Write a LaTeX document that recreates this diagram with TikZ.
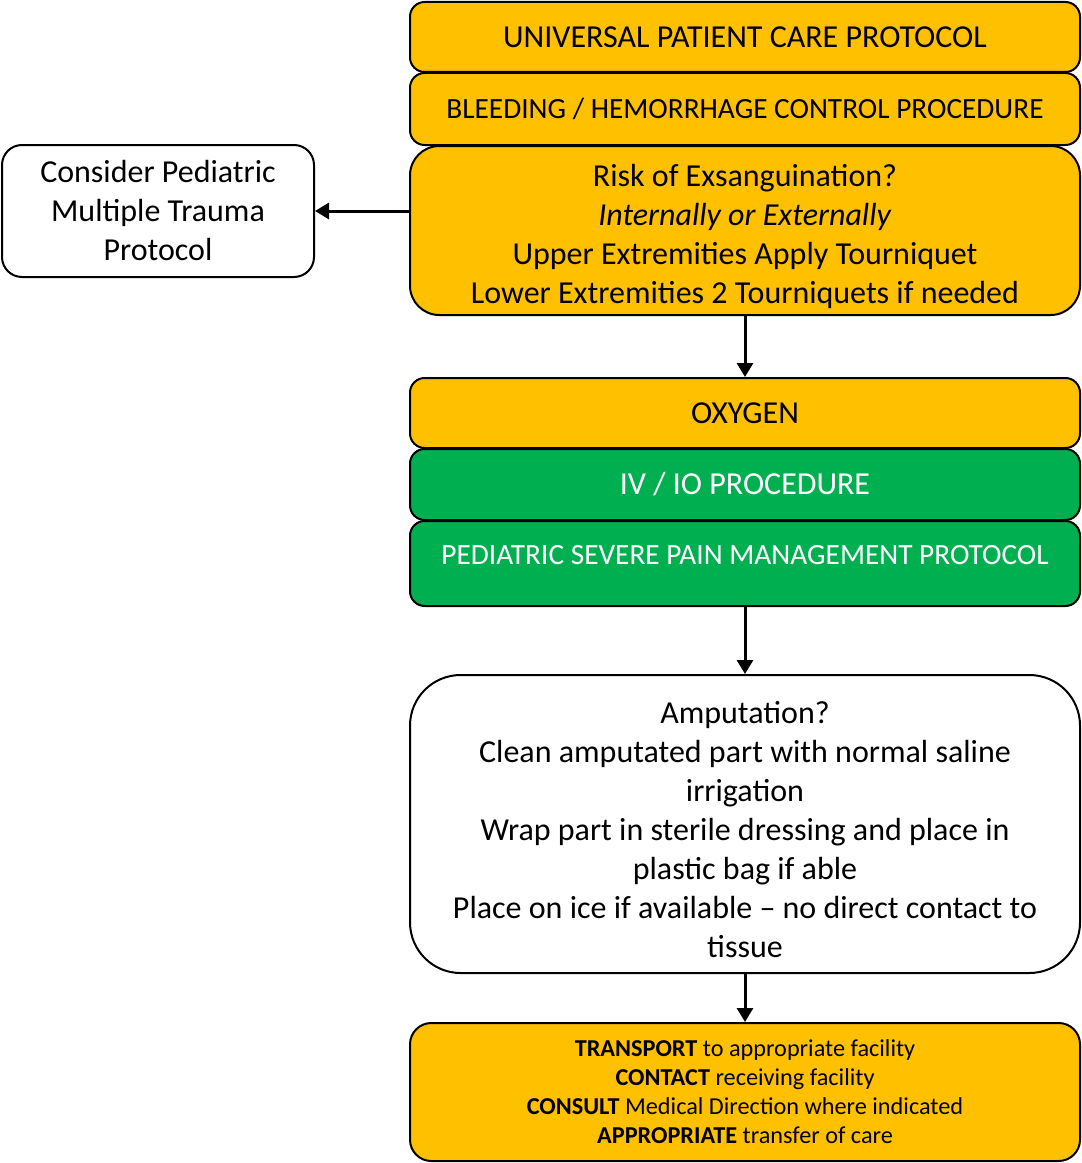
\documentclass[tikz,border=0pt]{standalone}
\usepackage{fontspec}
\setmainfont{Carlito}
\usetikzlibrary{arrows.meta}
\definecolor{protoorange}{HTML}{FFC000}
\definecolor{protogreen}{HTML}{00B050}
\tikzset{
  stepbox/.style={draw=black,line width=1.5pt,rounded corners=11pt,align=center,
    minimum width=502.5pt,inner sep=2pt,font=\fontsize{24}{29.25}\selectfont},
  orangebox/.style={stepbox,fill=protoorange},
  greenbox/.style={stepbox,fill=protogreen,text=white},
  whitebox/.style={stepbox,fill=white},
  flow/.style={line width=2.25pt,-{Triangle[length=10.5pt,width=12pt]}}
}
\begin{document}
\begin{tikzpicture}[x=0.75pt,y=-0.75pt]
  \useasboundingbox (0,0) rectangle (1081,1163);

  % protocol column on the right
  \node[orangebox,minimum height=52.5pt] (upc) at (745,37) {UNIVERSAL PATIENT CARE PROTOCOL};
  \node[orangebox,minimum height=54pt,font=\fontsize{22}{26}\selectfont] (bleed) at (745,109) {BLEEDING / HEMORRHAGE CONTROL PROCEDURE};
  \node[orangebox,minimum height=126.75pt,rounded corners=22pt] (risk) at (745,230.5)
    {\rule{0pt}{25pt}Risk of Exsanguination?\\ \textit{Internally or Externally}\\ Upper Extremities Apply Tourniquet\\ Lower Extremities 2 Tourniquets if needed};
  \node[orangebox,minimum height=52.5pt] (oxy) at (745,413) {OXYGEN};
  \node[greenbox,minimum height=53.25pt] (ivio) at (745,484.5) {IV / IO PROCEDURE};
  \node[greenbox,minimum height=63.75pt,font=\fontsize{22}{26}\selectfont] (pain) at (745,563.5) {\rule[-12.5pt]{0pt}{12.5pt}PEDIATRIC SEVERE PAIN MANAGEMENT PROTOCOL};
  \node[whitebox,minimum height=223.5pt,rounded corners=38pt] (amp) at (745,824)
    {\rule{0pt}{24.5pt}Amputation?\\ Clean amputated part with normal saline\\ irrigation\\ Wrap part in sterile dressing and place in\\ plastic bag if able\\ Place on ice if available -- no direct contact to\\ tissue};
  \node[orangebox,minimum height=103.5pt,rounded corners=16pt,font=\fontsize{18.2}{21.75}\selectfont] (transport) at (745,1092)
    {\textbf{TRANSPORT} to appropriate facility\\ \textbf{CONTACT} receiving facility\\ \textbf{CONSULT} Medical Direction where indicated\\ \textbf{APPROPRIATE} transfer of care};

  % side box on the left
  \node[whitebox,minimum width=234pt,minimum height=99pt,rounded corners=15pt] (peds) at (158,211)
    {Consider Pediatric\\ Multiple Trauma\\ Protocol};

  % connectors
  \draw[flow] (risk.west |- peds.east) -- (peds.east);
  \draw[flow] (risk) -- (oxy);
  \draw[flow] (pain) -- (amp);
  \draw[flow] (amp) -- (transport);
\end{tikzpicture}
\end{document}
